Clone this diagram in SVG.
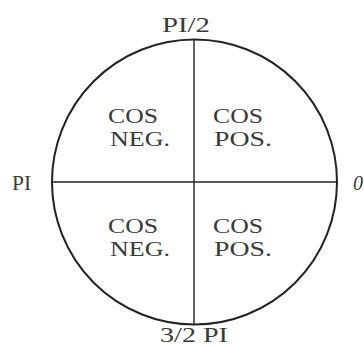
<svg xmlns="http://www.w3.org/2000/svg" width="364" height="346" viewBox="0 0 364 346">
<style>
.t{font-family:"Liberation Serif","Times New Roman",serif;font-size:22px;fill:#3a3a3a;}
.ln{stroke:#222;fill:none;}
</style>
<rect width="364" height="346" fill="#fff"/>
<g id="circle"><circle class="ln" cx="194.5" cy="182" r="142.5" stroke-width="2"/></g>
<g id="axes">
<line class="ln" x1="52" y1="182" x2="337" y2="182" stroke-width="1.6"/>
<line class="ln" x1="194" y1="40" x2="194" y2="324" stroke-width="1.4"/>
</g>
<g id="labels">
<text class="t" x="162" y="32" textLength="48" lengthAdjust="spacingAndGlyphs">PI/2</text>
<text class="t" x="12" y="190" textLength="19" lengthAdjust="spacingAndGlyphs">PI</text>
<text class="t" x="353" y="190" textLength="10" lengthAdjust="spacingAndGlyphs" font-style="italic">0</text>
<text class="t" x="160" y="342" textLength="68" lengthAdjust="spacingAndGlyphs">3/2 PI</text>
</g>
<g id="q2"><text class="t" x="108" y="123" textLength="50" lengthAdjust="spacingAndGlyphs">COS</text><text class="t" x="110" y="146" textLength="60" lengthAdjust="spacingAndGlyphs">NEG.</text></g>
<g id="q1"><text class="t" x="213" y="123" textLength="50" lengthAdjust="spacingAndGlyphs">COS</text><text class="t" x="214" y="146" textLength="58" lengthAdjust="spacingAndGlyphs">POS.</text></g>
<g id="q3"><text class="t" x="108" y="233" textLength="50" lengthAdjust="spacingAndGlyphs">COS</text><text class="t" x="110" y="256" textLength="60" lengthAdjust="spacingAndGlyphs">NEG.</text></g>
<g id="q4"><text class="t" x="213" y="233" textLength="50" lengthAdjust="spacingAndGlyphs">COS</text><text class="t" x="214" y="256" textLength="58" lengthAdjust="spacingAndGlyphs">POS.</text></g>
</svg>
